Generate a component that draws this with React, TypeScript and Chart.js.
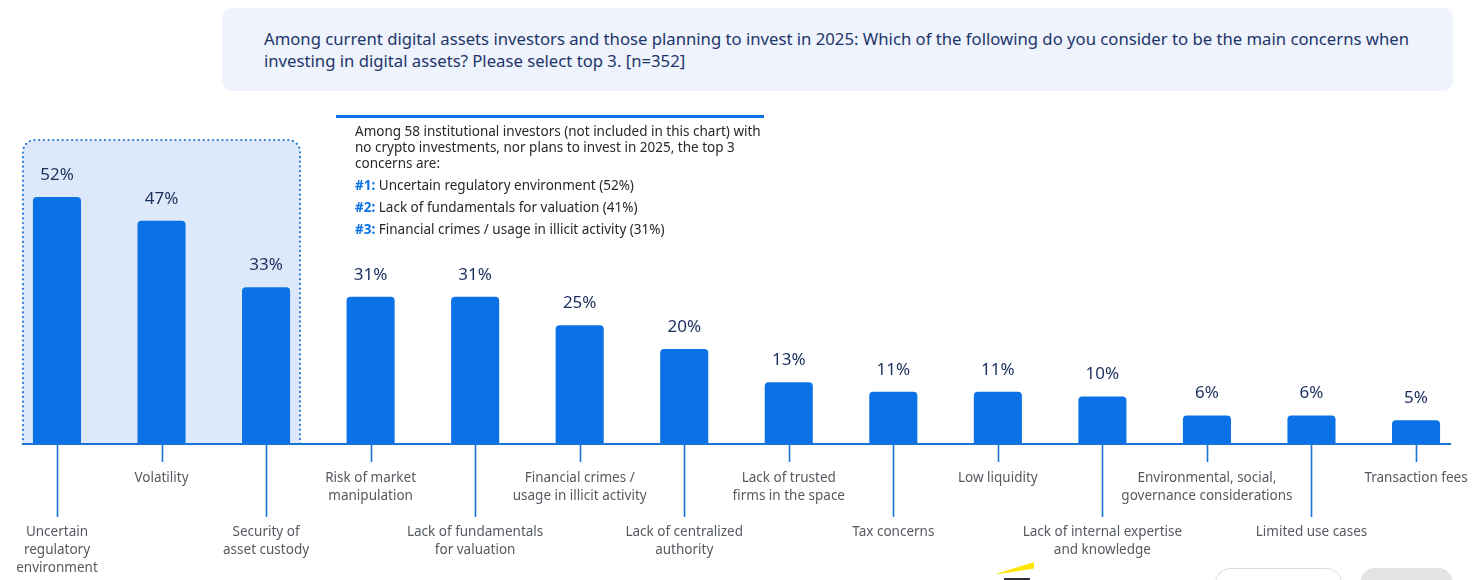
import React, { useEffect, useRef } from "react";
import { Chart, registerables } from "chart.js";

Chart.register(...registerables);

const categories: string[][] = [
  ["Uncertain", "regulatory", "environment"],
  ["Volatility"],
  ["Security of", "asset custody"],
  ["Risk of market", "manipulation"],
  ["Lack of fundamentals", "for valuation"],
  ["Financial crimes /", "usage in illicit activity"],
  ["Lack of centralized", "authority"],
  ["Lack of trusted", "firms in the space"],
  ["Tax concerns"],
  ["Low liquidity"],
  ["Lack of internal expertise", "and knowledge"],
  ["Environmental, social,", "governance considerations"],
  ["Limited use cases"],
  ["Transaction fees"],
];

const values: number[] = [52, 47, 33, 31, 31, 25, 20, 13, 11, 11, 10, 6, 6, 5];

const highlightedCount = 3;
const yMax = 64;

const titleText =
  "Among current digital assets investors and those planning to invest in 2025: Which of the following do you consider to be the main concerns when investing in digital assets? Please select top 3. [n=352]";

const noteIntro =
  "Among 58 institutional investors (not included in this chart) with no crypto investments, nor plans to invest in 2025, the top 3 concerns are:";
const noteRanks: string[] = ["#1:", "#2:", "#3:"];
const noteItems: string[] = [
  "Uncertain regulatory environment (52%)",
  "Lack of fundamentals for valuation (41%)",
  "Financial crimes / usage in illicit activity (31%)",
];

const BLUE = "#0a72e6";
const LINE_BLUE = "#1a74d8";
const NAVY = "#1b2f5e";
const FONT = "'Noto Sans', sans-serif";

function boxPath(ctx: any, left: number, top: number, right: number, bottom: number, r: number) {
  ctx.beginPath();
  ctx.moveTo(left, bottom);
  ctx.lineTo(left, top + r);
  ctx.arcTo(left, top, left + r, top, r);
  ctx.lineTo(right - r, top);
  ctx.arcTo(right, top, right, top + r, r);
  ctx.lineTo(right, bottom);
}

const decorPlugin = {
  id: "decor",
  beforeDatasetsDraw(chart: any) {
    const { ctx, chartArea } = chart;
    const xs = chart.scales.x;
    const ys = chart.scales.y;
    const left = xs.getPixelForTick(0) - 34;
    const right = xs.getPixelForTick(highlightedCount - 1) + 34;
    const top = ys.getPixelForValue(yMax);
    const bottom = chartArea.bottom;
    ctx.save();
    boxPath(ctx, left, top, right, bottom, 12);
    ctx.closePath();
    ctx.fillStyle = "#dde9fb";
    ctx.fill();
    boxPath(ctx, left, top, right, bottom, 12);
    ctx.setLineDash([0.1, 4.6]);
    ctx.lineCap = "round";
    ctx.lineWidth = 2.2;
    ctx.strokeStyle = "#2a78d8";
    ctx.stroke();
    ctx.restore();
  },
  afterDatasetsDraw(chart: any) {
    const { ctx, chartArea } = chart;
    const xs = chart.scales.x;
    const meta = chart.getDatasetMeta(0);
    ctx.save();
    const n = values.length;
    ctx.strokeStyle = LINE_BLUE;
    ctx.lineWidth = 2;
    ctx.beginPath();
    ctx.moveTo(xs.getPixelForTick(0) - 35, chartArea.bottom);
    ctx.lineTo(xs.getPixelForTick(n - 1) + 35, chartArea.bottom);
    ctx.stroke();
    ctx.lineWidth = 1.6;
    for (let i = 0; i < n; i++) {
      const x = Math.round(xs.getPixelForTick(i)) + 0.5;
      const len = i % 2 === 0 ? 73 : 18;
      ctx.beginPath();
      ctx.moveTo(x, chartArea.bottom);
      ctx.lineTo(x, chartArea.bottom + len);
      ctx.stroke();
    }
    ctx.fillStyle = NAVY;
    ctx.font = `17px ${FONT}`;
    ctx.textAlign = "center";
    ctx.textBaseline = "middle";
    meta.data.forEach((bar: any, i: number) => {
      ctx.fillText(`${values[i]}%`, bar.x, bar.y - 22);
    });
    ctx.restore();
  },
};

export default function App() {
  const ref = useRef<HTMLCanvasElement | null>(null);

  useEffect(() => {
    if (!ref.current) return;
    const chart = new Chart(ref.current, {
      type: "bar",
      data: {
        labels: categories.map((c) => c.join(" ")),
        datasets: [
          {
            data: values,
            backgroundColor: BLUE,
            borderRadius: { topLeft: 4, topRight: 4, bottomLeft: 0, bottomRight: 0 },
            borderSkipped: "start",
            barPercentage: 0.92,
            categoryPercentage: 0.5,
          },
        ],
      },
      options: {
        responsive: false,
        animation: false,
        devicePixelRatio: 1,
        layout: { padding: { top: 140, left: 4.7, right: 11.7, bottom: 0 } },
        plugins: { legend: { display: false }, tooltip: { enabled: false } },
        scales: {
          x: {
            offset: true,
            grid: { display: false, drawTicks: false },
            border: { display: false },
            ticks: {
              autoSkip: false,
              maxRotation: 0,
              minRotation: 0,
              padding: 7.5,
              color: "#555a60",
              font: { family: FONT, size: 13.5, lineHeight: "18px" as any },
              callback: (_v: any, i: number) =>
                i % 2 === 0 ? ["", "", "", "", ...categories[i]] : ["", ...categories[i]],
            },
            afterFit: (scale: any) => {
              scale.height = 136;
            },
          },
          y: {
            display: false,
            min: 0,
            max: yMax,
          },
        },
      },
      plugins: [decorPlugin],
    });
    return () => chart.destroy();
  }, []);

  return (
    <div
      style={{
        position: "fixed",
        left: 0,
        top: 0,
        width: 1480,
        height: 580,
        background: "#ffffff",
        overflow: "hidden",
        fontFamily: FONT,
      }}
    >
      <canvas ref={ref} width={1480} height={580} style={{ position: "absolute", left: 0, top: 0 }} />
      <div
        style={{
          position: "absolute",
          left: 222,
          top: 8,
          width: 1231,
          height: 83,
          background: "#eef3fd",
          borderRadius: 10,
          boxSizing: "border-box",
          padding: "20px 20px 0 42px",
          color: "#1d3669",
          fontSize: 16.7,
          lineHeight: "22px",
        }}
      >
        {titleText}
      </div>
      <div
        style={{
          position: "absolute",
          left: 336,
          top: 115,
          width: 428,
          height: 3,
          background: BLUE,
        }}
      />
      <div
        style={{
          position: "absolute",
          left: 355,
          top: 123,
          width: 412,
          color: "#26282c",
          fontSize: 13.5,
          lineHeight: "16px",
        }}
      >
        <div>{noteIntro}</div>
        {noteItems.map((t, i) => (
          <div key={i} style={{ marginTop: 6 }}>
            <span style={{ color: BLUE, fontWeight: 700 }}>{noteRanks[i]}</span> {t}
          </div>
        ))}
      </div>
      <div
        style={{
          position: "absolute",
          left: 996,
          top: 562,
          width: 38,
          height: 12,
          background: "#ffe600",
          clipPath: "polygon(0% 100%, 100% 0%, 100% 55%, 10% 100%)",
        }}
      />
      <div
        style={{
          position: "absolute",
          left: 1004,
          top: 578,
          width: 26,
          height: 2,
          background: "#2e2e38",
        }}
      />
      <div
        style={{
          position: "absolute",
          left: 1215,
          top: 568,
          width: 125,
          height: 30,
          border: "1px solid #dcdcdc",
          borderRadius: 15,
          background: "#fff",
        }}
      />
      <div
        style={{
          position: "absolute",
          left: 1360,
          top: 568,
          width: 93,
          height: 30,
          borderRadius: 15,
          background: "#e3e3e3",
        }}
      />
    </div>
  );
}
